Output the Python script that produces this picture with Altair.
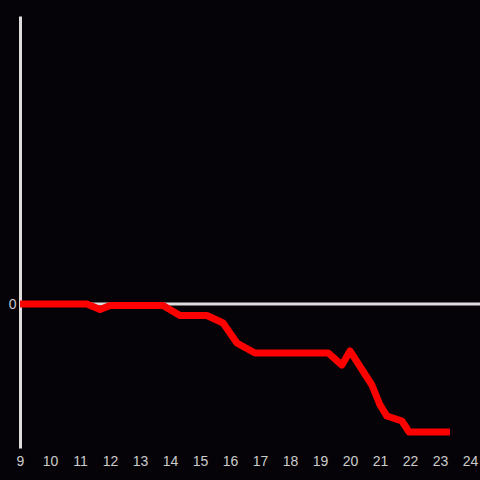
import altair as alt
import pandas as pd
import altair.utils.html as _html

hours = [9, 11.23, 11.67, 12.0, 13.77, 14.33, 15.23, 15.77, 16.23, 16.83,
         19.27, 19.73, 20.0, 20.73, 21.0, 21.23, 21.73, 21.97, 23.33]
values = [0, 0, -0.038, -0.010, -0.010, -0.08, -0.08, -0.132, -0.271, -0.340,
          -0.340, -0.424, -0.326, -0.5625, -0.701, -0.778, -0.8125, -0.889, -0.889]
tick_hours = list(range(9, 25))

df = pd.DataFrame({"hour": hours, "value": values})
zero_df = pd.DataFrame({"y": [0]})

BG = "#050308"

# dark page behind the chart (no white page margin)
_orig_render = _html.HTML_TEMPLATE.render


def _render(*args, **kwargs):
    page = _orig_render(*args, **kwargs)
    style = ("<style>html,body{background:%s;margin:0;padding:0;overflow:hidden;}</style>" % BG)
    if "<head>" in page:
        return page.replace("<head>", "<head>\n" + style, 1)
    return style + page


_html.HTML_TEMPLATE.render = _render

x_scale = alt.Scale(domain=[9, 24.333], nice=False, zero=False)
y_scale = alt.Scale(domain=[-1, 2], nice=False)

line = alt.Chart(df).mark_line(color="#ff0000", strokeWidth=7, strokeJoin="round").encode(
    x=alt.X("hour:Q", scale=x_scale,
            axis=alt.Axis(values=tick_hours, domain=False, ticks=False, grid=False,
                          title=None, labelColor="#cccccc", labelFontSize=14,
                          labelFlush=False, labelPadding=6, labelFont="Liberation Sans")),
    y=alt.Y("value:Q", scale=y_scale,
            axis=alt.Axis(values=[0], format="d", domain=True, domainColor="#dddddd",
                          domainWidth=3, ticks=False, grid=False, title=None,
                          labelColor="#cccccc", labelFontSize=14, labelPadding=4,
                          labelFont="Liberation Sans")),
)

zero = alt.Chart(zero_df).mark_rule(color="#dddddd", strokeWidth=3).encode(
    y=alt.Y("y:Q", scale=y_scale),
    x=alt.value(0), x2=alt.value(460),
)

chart = alt.layer(zero, line).properties(
    width=460, height=432,
    autosize=alt.AutoSizeParams(type="none"),
    padding={"left": 20, "top": 16, "right": 0, "bottom": 32},
    background=BG,
).configure_view(stroke=None)

chart.save("out.html", embed_options={"renderer": "svg", "actions": False})
